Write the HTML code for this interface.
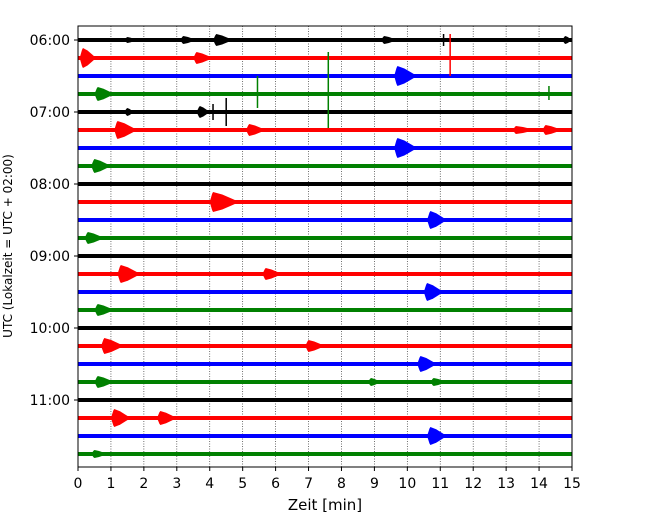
<!DOCTYPE html>
<html><head><meta charset="utf-8"><style>
body{margin:0;background:#fff}
svg{display:block;font-family:"DejaVu Sans","Liberation Sans",sans-serif}
</style></head><body>
<svg id="chart" width="650" height="520" xmlns="http://www.w3.org/2000/svg">
<g id="grid"></g>
<g id="traces"></g>
<rect x="78" y="26" width="494" height="441" fill="none" stroke="#000" stroke-width="1"/>
<g id="xaxis"></g>
<g id="yaxis"></g>
<text x="325" y="510" text-anchor="middle" font-size="15">Zeit  [min]</text>
<text transform="translate(12,246) rotate(-90)" text-anchor="middle" font-size="12">UTC (Lokalzeit = UTC + 02:00)</text>
</svg>
<script>
const xTicks=[0,1,2,3,4,5,6,7,8,9,10,11,12,13,14,15];
const yTickLabels=["06:00","07:00","08:00","09:00","10:00","11:00"];
const rowCount=24;
const colors=["#000","#f00","#00f","#008000"];
// events: [row, time(min), amplitude(px), duration(min)]
const events=[[0,4.2,6,0.5],[0,3.2,4,0.4],[0,1.5,3,0.3],[0,9.3,4,0.4],[0,14.8,4,0.3],
[1,0.15,10,0.4],[1,3.6,6,0.5],[2,9.7,10,0.6],[3,0.6,7,0.5],[4,1.5,4,0.2],[4,3.7,6,0.3],
[5,1.2,9,0.6],[5,5.2,6,0.5],[5,13.3,4,0.6],[5,14.2,5,0.5],[6,9.7,10,0.6],[7,0.5,7,0.5],
[9,4.1,10,0.8],[10,10.7,9,0.5],[11,0.3,6,0.5],[13,1.3,9,0.6],[13,5.7,6,0.5],[14,10.6,9,0.5],
[15,0.6,6,0.5],[17,0.8,8,0.6],[17,7.0,6,0.5],[18,10.4,8,0.5],[19,0.6,6,0.5],[19,8.9,4,0.3],
[19,10.8,4,0.4],[21,1.1,9,0.5],[21,2.5,7,0.5],[22,10.7,9,0.5],[23,0.5,4,0.4]];
// spikes: [row, time, up(px), down(px)]
const spikes=[[1,11.3,24,18],[3,5.45,18,14],[3,7.6,42,34],[3,14.3,8,6],[4,4.5,14,14],[4,4.1,8,8],[0,11.1,6,6]];
const NS="http://www.w3.org/2000/svg";
const x=t=>78+t*(494/15);
const y=r=>40+r*18;
function mk(tag,attrs,parent){const e=document.createElementNS(NS,tag);for(const k in attrs)e.setAttribute(k,attrs[k]);parent.appendChild(e);return e;}
const grid=document.getElementById('grid'),tr=document.getElementById('traces'),xa=document.getElementById('xaxis'),ya=document.getElementById('yaxis');
xTicks.forEach(t=>{
 if(t>0&&t<15){const l=mk('line',{x1:x(t),x2:x(t),y1:26,y2:467,stroke:'#333','stroke-width':0.7,'stroke-dasharray':'1,1.5'},grid);
 
 }
 const tk=mk('line',{x1:x(t),x2:x(t),y1:467,y2:471,stroke:'#000'},xa);
 
 
 const tx=mk('text',{x:x(t),y:488,'text-anchor':'middle','font-size':14},xa);tx.textContent=t;
 
 
});
yTickLabels.forEach((s,i)=>{
 const yy=y(i*4);
 const tk=mk('line',{x1:74,x2:78,y1:yy,y2:yy,stroke:'#000'},ya);
 
 
 const tx=mk('text',{x:70,y:yy+5,'text-anchor':'end','font-size':14},ya);tx.textContent=s;
 
 
});
for(let r=0;r<rowCount;r++){
 const b=mk('rect',{x:78,y:y(r)-2,width:494,height:4,fill:colors[r%4]},tr);
 
 
}
events.forEach(([r,t,a,d])=>{
 const c=y(r),x0=x(Math.max(0,t-0.1)),xp=x(t),x1=x(Math.min(15,t+d));
 const xm=xp+(x1-xp)*0.35, xn=xp+(x1-xp)*0.7;
 const pts=[[x0,c],[xp-(xp-x0)*0.3,c-a*0.8],[xp,c-a],[xm,c-a*0.75],[xn,c-a*0.35],[x1,c],
  [xn,c+a*0.35],[xm,c+a*0.75],[xp,c+a],[xp-(xp-x0)*0.3,c+a*0.8]];
 const p=mk('polygon',{points:pts.map(q=>q.join(',')).join(' '),fill:colors[r%4]},tr);
 
 
});
spikes.forEach(([r,t,u,dn])=>{
 const l=mk('line',{x1:x(t),x2:x(t),y1:y(r)-u,y2:y(r)+dn,stroke:colors[r%4],'stroke-width':1.5},tr);
 
 
});
</script>
</body></html>
